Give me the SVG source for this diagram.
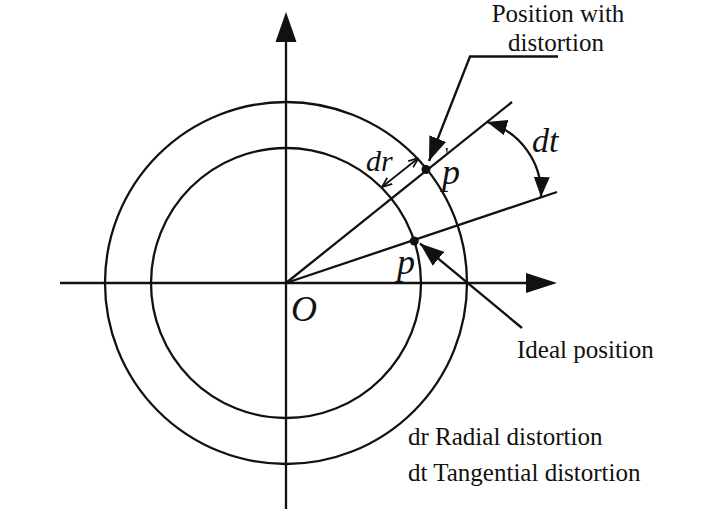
<svg xmlns="http://www.w3.org/2000/svg" width="714" height="531" viewBox="0 0 714 531">
<style>
.ln{fill:none;stroke:#111;stroke-width:2.3}
.fill{fill:#111;stroke:none}
.t{font-family:"Liberation Serif","Times New Roman",serif;font-size:25px;fill:#111}
.it{font-family:"Liberation Serif","Times New Roman",serif;font-style:italic;fill:#111}
</style>
<defs>
<marker id="big" viewBox="0 0 24 18" refX="24" refY="9" markerWidth="24" markerHeight="18" markerUnits="userSpaceOnUse" orient="auto-start-reverse">
<path d="M0,0 L24,9 L0,18 z" fill="#111"/>
</marker>
<marker id="mid" viewBox="0 0 20 16" refX="20" refY="8" markerWidth="20" markerHeight="16" markerUnits="userSpaceOnUse" orient="auto-start-reverse">
<path d="M0,0 L20,8 L0,16 z" fill="#111"/>
</marker>
<marker id="open" viewBox="0 0 10 10" refX="10" refY="5" markerWidth="10" markerHeight="10" markerUnits="userSpaceOnUse" orient="auto-start-reverse">
<path d="M0,1 L10,5 L0,9" fill="none" stroke="#111" stroke-width="1.8"/>
</marker>
</defs>
<g id="circles">
<circle class="ln" cx="286" cy="283" r="181"/>
<circle class="ln" cx="286" cy="283" r="135"/>
</g>
<g id="axes">
<line class="ln" x1="60" y1="283" x2="528" y2="283"/>
<polygon class="fill" points="526,273 557,283 526,293"/>
<line class="ln" x1="286" y1="509" x2="286" y2="40"/>
<polygon class="fill" points="275.5,42 286,12 296.5,42"/>
</g>
<g id="connectors">
<line class="ln" x1="286" y1="283" x2="512" y2="102"/>
<line class="ln" x1="286" y1="283" x2="557" y2="192"/>
<polyline class="ln" points="558,56.5 470,56.5 429,161" marker-end="url(#big)"/>
<line class="ln" x1="522" y1="328" x2="420" y2="243.5" marker-end="url(#big)"/>
<path class="ln" d="M487,122 A75,75 0 0 1 541,197" marker-start="url(#mid)" marker-end="url(#mid)"/>
<line class="ln" x1="382" y1="187" x2="418.5" y2="158" style="stroke-width:1.8" marker-start="url(#open)" marker-end="url(#open)"/>
</g>
<g id="points">
<circle class="fill" cx="426" cy="169.5" r="4.5"/>
<circle class="fill" cx="414.3" cy="241" r="4.5"/>
</g>
<g id="labels">
<text class="it" x="291" y="321" font-size="36">O</text>
<text class="it" x="397" y="274" font-size="36">p</text>
<text class="it" x="442" y="184" font-size="36">p<tspan x="445" y="162" font-size="20" font-style="normal">'</tspan></text>
<text class="it" x="532" y="152" font-size="34">dt</text>
<text class="it" x="366" y="171" font-size="30">dr</text>
<text class="t" x="558" y="22" text-anchor="middle">Position with</text>
<text class="t" x="556" y="51" text-anchor="middle">distortion</text>
<text class="t" x="517" y="358">Ideal position</text>
<text class="t" x="408" y="445">dr Radial distortion</text>
<text class="t" x="408" y="481">dt Tangential distortion</text>
</g>
</svg>
